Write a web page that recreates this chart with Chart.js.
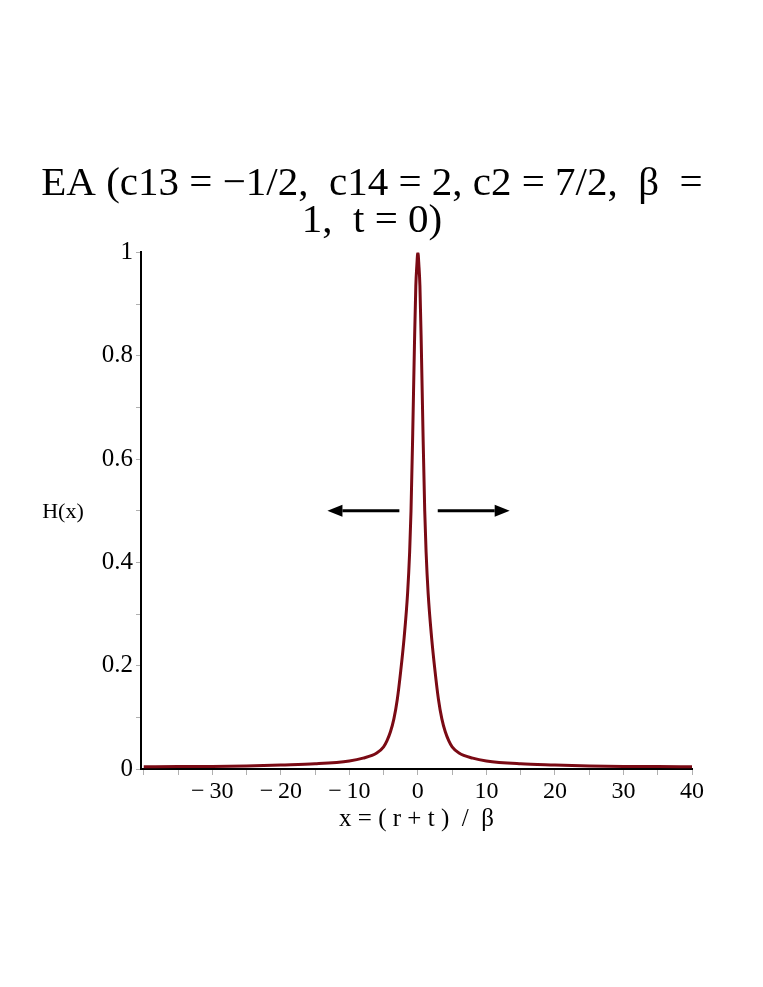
<!DOCTYPE html>
<html>
<head>
<meta charset="utf-8">
<script src="https://cdn.jsdelivr.net/npm/chart.js@4"></script>
<style>
  html, body { margin: 0; padding: 0; background: #ffffff; }
  #wrap { width: 763px; height: 987px; }
</style>
</head>
<body>
<div id="wrap"><canvas id="plot" width="763" height="987"></canvas></div>
<script>
// values
const xValues = [-40, -35, -30, -25, -20, -15, -10, -8, -6, -5, -4.5, -4, -3.5, -3, -2.5, -2, -1.5, -1.2, -1, -0.75, -0.5, -0.3, -0.15, 0,
                 0.15, 0.3, 0.5, 0.75, 1, 1.2, 1.5, 2, 2.5, 3, 3.5, 4, 4.5, 5, 6, 8, 10, 15, 20, 25, 30, 35, 40];
const hValues = [0.0045, 0.0047, 0.005, 0.006, 0.0078, 0.010, 0.0155, 0.021, 0.031, 0.043, 0.055, 0.072, 0.097, 0.135, 0.19, 0.255, 0.34, 0.42, 0.50, 0.65, 0.82, 0.935, 0.975, 1.0,
                 0.975, 0.935, 0.82, 0.65, 0.50, 0.42, 0.34, 0.255, 0.19, 0.135, 0.097, 0.072, 0.055, 0.043, 0.031, 0.021, 0.0155, 0.010, 0.0078, 0.006, 0.005, 0.0047, 0.0045];

const xTicks = [-40, -35, -30, -25, -20, -15, -10, -5, 0, 5, 10, 15, 20, 25, 30, 35, 40];
const xTickLabels = ['', '', '\u2212\u200930', '', '\u2212\u200920', '', '\u2212\u200910', '', '0', '', '10', '', '20', '', '30', '', '40'];
const yTicks = [0, 0.1, 0.2, 0.3, 0.4, 0.5, 0.6, 0.7, 0.8, 0.9, 1];
const yTickLabels = ['0', '', '0.2', '', '0.4', '', '0.6', '', '0.8', '', '1'];

// the two arrows pointing outwards, [from, to] in x units, at H = 0.5
const arrowSpans = [[-2.7, -13.2], [2.9, 13.4]];
const arrowLevel = 0.5;

const titleLines = ['EA (c13 = \u22121/2,  c14 = 2, c2 = 7/2,  \u03b2  =', '1,  t = 0)'];
const xTitle = 'x = ( r + t )  /  \u03b2';
const yTitle = 'H(x)';

const serif = '"Liberation Serif", "DejaVu Serif", serif';
const curveColor = '#7a0a14';

const extras = {
    id: 'extras',
    afterDatasetsDraw(chart) {
        const ctx = chart.ctx;
        const xs = chart.scales.x;
        const ys = chart.scales.y;
        const py = ys.getPixelForValue(arrowLevel);
        ctx.save();
        ctx.strokeStyle = '#000';
        ctx.fillStyle = '#000';
        ctx.lineWidth = 3;
        arrowSpans.forEach(([from, to]) => {
            const x0 = xs.getPixelForValue(from);
            const x1 = xs.getPixelForValue(to);
            const dir = Math.sign(x1 - x0);
            const head = 15;
            ctx.beginPath();
            ctx.moveTo(x0, py);
            ctx.lineTo(x1 - dir * head, py);
            ctx.stroke();
            ctx.beginPath();
            ctx.moveTo(x1, py);
            ctx.lineTo(x1 - dir * head, py - 6);
            ctx.lineTo(x1 - dir * head, py + 6);
            ctx.closePath();
            ctx.fill();
        });
        // horizontal y-axis title
        ctx.font = '22px ' + serif;
        ctx.textAlign = 'center';
        ctx.textBaseline = 'middle';
        ctx.fillText(yTitle, 63, (chart.chartArea.top + chart.chartArea.bottom) / 2 + 1);
        ctx.restore();
    }
};

new Chart(document.getElementById('plot'), {
    type: 'line',
    data: {
        datasets: [{
            data: xValues.map((x, i) => ({ x: x, y: hValues[i] })),
            borderColor: curveColor,
            borderWidth: 3,
            pointRadius: 0,
            cubicInterpolationMode: 'monotone',
            fill: false
        }]
    },
    options: {
        responsive: false,
        animation: false,
        layout: { padding: { left: 0, right: 19, top: 0, bottom: 148 } },
        plugins: {
            legend: { display: false },
            tooltip: { enabled: false },
            title: {
                display: true,
                text: titleLines,
                color: '#000',
                font: { family: serif, size: 41, weight: 'normal', lineHeight: 0.92 },
                padding: { top: 165, bottom: 12 }
            }
        },
        scales: {
            x: {
                type: 'linear',
                min: -40.4,
                max: 40,
                afterBuildTicks: s => { s.ticks = xTicks.map(v => ({ value: v })); },
                afterFit: s => { s.height = 70; },
                ticks: {
                    autoSkip: false,
                    maxRotation: 0,
                    color: '#000',
                    font: { family: serif, size: 24 },
                    padding: 2,
                    callback: v => xTickLabels[xTicks.indexOf(v)]
                },
                grid: { drawOnChartArea: false, tickLength: 6, color: '#b0b0b0' },
                border: { color: '#000', width: 2 },
                title: {
                    display: true,
                    text: xTitle,
                    color: '#000',
                    font: { family: serif, size: 25 },
                    padding: { top: 0, bottom: 5 }
                }
            },
            y: {
                min: 0,
                max: 1,
                afterBuildTicks: s => { s.ticks = yTicks.map(v => ({ value: v })); },
                afterFit: s => { s.width = 141; },
                ticks: {
                    autoSkip: false,
                    color: '#000',
                    font: { family: serif, size: 25 },
                    padding: 3,
                    callback: v => yTickLabels[yTicks.findIndex(t => Math.abs(t - v) < 1e-9)]
                },
                grid: { drawOnChartArea: false, tickLength: 5, color: '#b0b0b0' },
                border: { color: '#000', width: 2 }
            },
            // empty right-hand box, keeps the plot width while the title centres on the page
            spacer: {
                position: 'right',
                display: false,
                afterFit: s => { s.width = 52; }
            }
        }
    },
    plugins: [extras]
});
</script>
</body>
</html>
